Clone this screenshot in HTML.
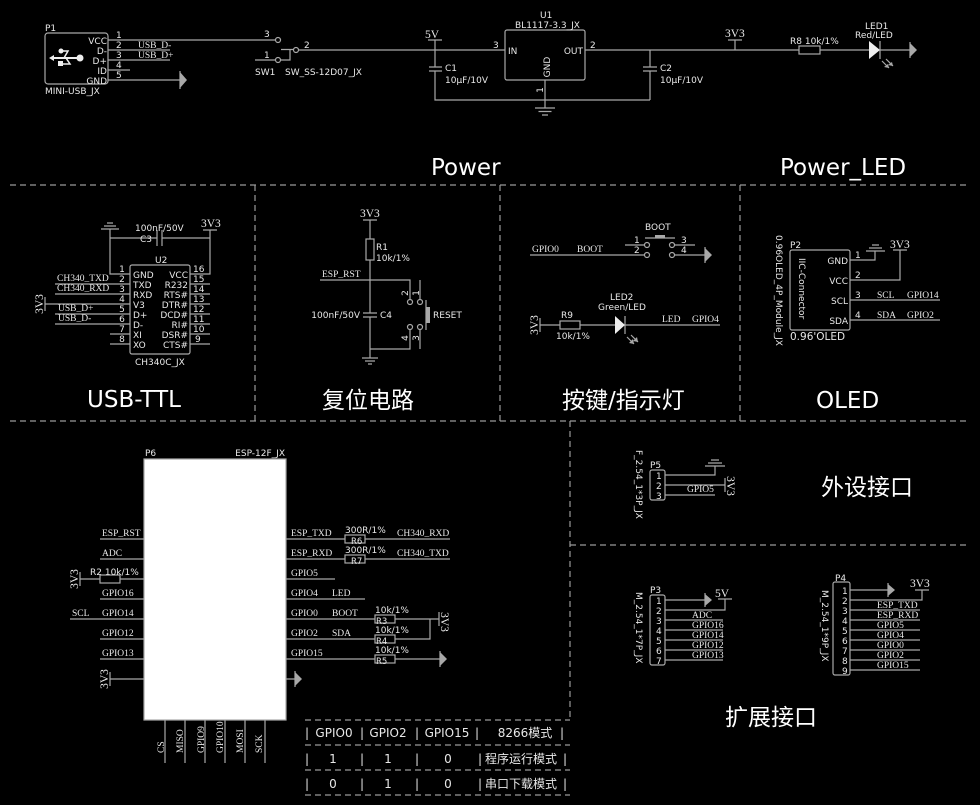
<!DOCTYPE html>
<html><head><meta charset="utf-8"><style>
html,body{margin:0;padding:0;background:#000;width:980px;height:805px;overflow:hidden}
svg{display:block}
.l{stroke:#a8a8a8;stroke-width:1.2;fill:none}
.d{stroke:#9a9a9a;stroke-width:1.2;fill:none;stroke-dasharray:6 4}
.g{fill:#a8a8a8;stroke:none}
.w{fill:#eeeeee;stroke:none}
text{fill:#e8e8e8;font-family:"DejaVu Sans","Noto Sans CJK SC",sans-serif;font-size:9px}
.s{font-family:"Liberation Serif",serif;font-size:9.5px}
.p{font-family:"Liberation Serif",serif;font-size:11.5px}
.t{font-size:23px;fill:#fff}
.tb text{font-size:12px}
.rs{font-size:8.5px}
</style></head><body>
<svg width="980" height="805" viewBox="0 0 980 805" xmlns="http://www.w3.org/2000/svg">
<rect width="980" height="805" fill="#000"/>

<!-- dashed section lines -->
<g class="d">
<path d="M10 185H970"/>
<path d="M255 185V421M500 185V421M740 185V421"/>
<path d="M10 421H970"/>
<path d="M570 421V720"/>
<path d="M570 545H970"/>
<path d="M305 720H570M305 745H570M305 770H570M305 795H570"/>
</g>

<!-- ================= TOP: POWER ================= -->
<g class="l">
<rect x="45" y="33" width="63" height="51" rx="3"/>
<path d="M108 40H275.5M108 50H170M108 60H170M108 70H130M108 80H180M180 71V89"/>
<circle cx="278" cy="40" r="2.5"/><circle cx="278" cy="60" r="2.5"/><circle cx="296" cy="50" r="2.5"/>
<path d="M255 60H275.5M281 49.5H293.5M290 49.5V60H280.5M298.5 50H505"/>
<path d="M428 40H442M435 40V67M429 67H442M429 71H442M435 71V100H650M650 50V67M643 67H657M643 71H657M650 71V100"/>
<rect x="505" y="30" width="80" height="50" rx="2"/>
<path d="M545 80V108M535 108H555M538.5 111.5H551.5M542 115H548"/>
<path d="M585 50H799M820 50H869M880 50H910M728 40H742M735 40V50"/>
<rect x="799" y="46" width="21" height="8"/>
<path d="M880 41V59M910 42V58"/>
<path d="M882 61L889 68M886 59L893 66"/>
</g>
<polygon class="g" points="180,72 187,80 180,88"/>
<polygon class="g" points="910,43 917,50 910,57"/>
<polygon class="w" points="869,41 880,50 869,59"/>
<polygon class="g" points="889,68 884,67 888,64"/>
<polygon class="g" points="893,66 888,65 892,62"/>
<!-- USB icon -->
<g>
<path d="M52 58H78" stroke="#eee" stroke-width="2"/>
<path d="M64 58L68 51H61M66 58L70 64H62" stroke="#eee" stroke-width="1.5" fill="none"/>
<circle cx="80" cy="58" r="3.5" class="w"/>
<circle cx="61" cy="51" r="2.5" class="w"/>
<rect x="58" y="61" width="5" height="5" class="w"/>
<polygon class="w" points="49,58 54,55 54,61"/>
</g>
<text x="45" y="31">P1</text>
<text x="107" y="44" text-anchor="end">VCC</text>
<text x="107" y="54" text-anchor="end">D-</text>
<text x="107" y="64" text-anchor="end">D+</text>
<text x="107" y="74" text-anchor="end">ID</text>
<text x="107" y="84" text-anchor="end">GND</text>
<text x="116" y="38">1</text><text x="116" y="48">2</text><text x="116" y="58">3</text><text x="116" y="68">4</text><text x="116" y="78">5</text>
<text class="s" x="138" y="48">USB_D-</text>
<text class="s" x="138" y="58">USB_D+</text>
<text x="45" y="94">MINI-USB_JX</text>
<text x="264" y="37">3</text><text x="264" y="58">1</text><text x="304" y="48">2</text>
<text x="255" y="75">SW1</text><text x="285" y="75">SW_SS-12D07_JX</text>
<text class="p" x="425" y="38">5V</text>
<text x="445" y="71">C1</text><text x="445" y="83">10µF/10V</text>
<text x="540" y="18">U1</text><text x="515" y="28">BL1117-3.3_JX</text>
<text x="508" y="54">IN</text><text x="583" y="54" text-anchor="end">OUT</text>
<text x="493" y="48">3</text><text x="590" y="48">2</text>
<text transform="translate(550,67) rotate(-90)" text-anchor="middle">GND</text>
<text transform="translate(543,90) rotate(-90)" text-anchor="middle">1</text>
<text x="660" y="71">C2</text><text x="660" y="83">10µF/10V</text>
<text class="p" x="725" y="37">3V3</text>
<text x="790" y="44">R8 10k/1%</text>
<text x="865" y="29">LED1</text><text x="855" y="38">Red/LED</text>
<text class="t" x="431" y="175">Power</text>
<text class="t" x="780" y="175">Power_LED</text>

<!-- ================= USB-TTL ================= -->
<g class="l">
<path d="M110 229V274H130M101 229H119M104 226H116M107 223H113"/>
<path d="M110 238H157M157 230V246M162 230V246M162 238H210M203 230H217M210 230V274H190"/>
<rect x="130" y="265" width="60" height="89" rx="2"/>
<path d="M55 284H130M55 294H130M45 304H130M45 297V311M55 314H130M55 324H130M110 334H130M110 344H130"/>
<path d="M190 284H210M190 294H210M190 304H210M190 314H210M190 324H210M190 334H210M190 344H210"/>
</g>
<text x="135" y="231">100nF/50V</text>
<text x="140" y="242">C3</text>
<text class="p" x="201" y="227">3V3</text>
<text x="155" y="263">U2</text>
<text x="133" y="278">GND</text><text x="133" y="288">TXD</text><text x="133" y="298">RXD</text><text x="133" y="308">V3</text>
<text x="133" y="318">D+</text><text x="133" y="328">D-</text><text x="133" y="338">XI</text><text x="133" y="348">XO</text>
<text x="188" y="278" text-anchor="end">VCC</text><text x="188" y="288" text-anchor="end">R232</text>
<text x="188" y="298" text-anchor="end">RTS#</text><text x="188" y="308" text-anchor="end">DTR#</text>
<text x="188" y="318" text-anchor="end">DCD#</text><text x="188" y="328" text-anchor="end">RI#</text>
<text x="188" y="338" text-anchor="end">DSR#</text><text x="188" y="348" text-anchor="end">CTS#</text>
<text x="122" y="272" text-anchor="middle">1</text><text x="122" y="282" text-anchor="middle">2</text>
<text x="122" y="292" text-anchor="middle">3</text><text x="122" y="302" text-anchor="middle">4</text>
<text x="122" y="312" text-anchor="middle">5</text><text x="122" y="322" text-anchor="middle">6</text>
<text x="122" y="332" text-anchor="middle">7</text><text x="122" y="342" text-anchor="middle">8</text>
<text x="193" y="272">16</text><text x="193" y="282">15</text><text x="193" y="292">14</text><text x="193" y="302">13</text>
<text x="193" y="312">12</text><text x="193" y="322">11</text><text x="193" y="332">10</text><text x="195" y="342">9</text>
<text class="s" x="57" y="281">CH340_TXD</text>
<text class="s" x="57" y="291">CH340_RXD</text>
<text class="s" x="58" y="311">USB_D+</text>
<text class="s" x="58" y="321">USB_D-</text>
<text class="p" transform="translate(43,304) rotate(-90)" text-anchor="middle">3V3</text>
<text x="135" y="365">CH340C_JX</text>
<text class="t" x="134" y="407" text-anchor="middle">USB-TTL</text>

<!-- ================= RESET ================= -->
<g class="l">
<path d="M363 220H377M370 220V239M370 260V313M363 313H377M363 317H377M370 317V358M362 358H378M365 361H375M368 364H372"/>
<rect x="366" y="239" width="8" height="21"/>
<path d="M320 280H410V299.5M420 280V299.5M410 329.5V349H370M420 329.5V349"/>
<circle cx="410" cy="302" r="2.5"/><circle cx="420" cy="302" r="2.5"/>
<circle cx="410" cy="327" r="2.5"/><circle cx="420" cy="327" r="2.5"/>
<path d="M426 300V330"/>
</g>
<rect x="426" y="307" width="4" height="16" class="g"/>
<text class="p" x="360" y="217">3V3</text>
<text x="376" y="250">R1</text><text x="376" y="261">10k/1%</text>
<text class="s" x="322" y="277">ESP_RST</text>
<text transform="translate(408,293) rotate(-90)" text-anchor="middle">2</text>
<text transform="translate(419,293) rotate(-90)" text-anchor="middle">1</text>
<text transform="translate(408,338) rotate(-90)" text-anchor="middle">4</text>
<text transform="translate(419,338) rotate(-90)" text-anchor="middle">3</text>
<text x="360" y="318" text-anchor="end">100nF/50V</text>
<text x="380" y="318">C4</text>
<text x="433" y="318">RESET</text>
<text class="t" x="322" y="408">复位电路</text>

<!-- ================= BUTTON / LED ================= -->
<g class="l">
<path d="M530 255H644.5M625 245H644.5M674.5 245H695M674.5 255H705M705 247V263M645 238H675"/>
<circle cx="647" cy="245" r="2.5"/><circle cx="647" cy="255" r="2.5"/>
<circle cx="672" cy="245" r="2.5"/><circle cx="672" cy="255" r="2.5"/>
<path d="M540 318V332M540 325H560M580 325H615M625 316V334M625 325H720"/>
<rect x="560" y="321" width="20" height="8"/>
<path d="M627 337L634 344M631 335L638 342"/>
</g>
<rect x="655" y="235" width="10" height="3" class="g"/>
<polygon class="g" points="705,248 712,255 705,262"/>
<polygon class="w" points="615,316 625,325 615,334"/>
<polygon class="g" points="634,344 629,343 633,339"/>
<polygon class="g" points="638,342 633,341 637,337"/>
<text class="s" x="532" y="252">GPIO0</text>
<text class="s" x="577" y="252">BOOT</text>
<text x="645" y="230">BOOT</text>
<text x="634" y="243">1</text><text x="634" y="253">2</text>
<text x="681" y="243">3</text><text x="681" y="253">4</text>
<text class="p" transform="translate(538,325) rotate(-90)" text-anchor="middle">3V3</text>
<text x="561" y="318">R9</text>
<text x="556" y="339">10k/1%</text>
<text x="610" y="300">LED2</text>
<text x="598" y="310">Green/LED</text>
<text class="s" x="662" y="322">LED</text>
<text class="s" x="692" y="322">GPIO4</text>
<text class="t" x="562" y="408">按键/指示灯</text>

<!-- ================= OLED ================= -->
<g class="l">
<rect x="790" y="250" width="60" height="80" rx="2"/>
<path d="M850 260H875V251M866 251H885M869 248H882M872 245H879"/>
<path d="M850 280H900V250M893 250H907"/>
<path d="M850 300H940M850 320H940"/>
</g>
<text x="790" y="248">P2</text>
<text x="848" y="264" text-anchor="end">GND</text>
<text x="848" y="284" text-anchor="end">VCC</text>
<text x="848" y="304" text-anchor="end">SCL</text>
<text x="848" y="324" text-anchor="end">SDA</text>
<text x="855" y="258">1</text><text x="855" y="278">2</text><text x="855" y="298">3</text><text x="855" y="318">4</text>
<text class="p" x="890" y="248">3V3</text>
<text class="s" x="877" y="298">SCL</text><text class="s" x="907" y="298">GPIO14</text>
<text class="s" x="877" y="318">SDA</text><text class="s" x="907" y="318">GPIO2</text>
<text x="790" y="340" style="font-size:10.5px">0.96'OLED</text>
<text transform="translate(799,258) rotate(90)">IIC-Connector</text>
<text transform="translate(776,235) rotate(90)">0.96OLED_4P_Module_JX</text>
<text class="t" x="816" y="408">OLED</text>

<!-- ================= ESP-12F ================= -->
<rect x="144" y="459" width="142" height="261" fill="#fff" stroke="#a8a8a8" stroke-width="1.2"/>
<g class="l">
<path d="M100 539H144M100 559H144M80 572V586M80 579H100M120 579H144M100 599H144M70 619H144M100 639H144M100 659H144M110 672V686M110 679H144"/>
<rect x="100" y="575" width="20" height="8"/>
<path d="M286 539H345M365 539H450M286 559H345M365 559H450M286 579H335M286 599H365"/>
<rect x="345" y="535" width="20" height="8"/>
<rect x="345" y="555" width="20" height="8"/>
<path d="M286 619H375M395 619H439M439 612V626M286 639H375M395 639H430V619M286 659H375M395 659H440M440 651V667M286 679H295M295 671V687"/>
<rect x="375" y="615" width="20" height="8"/>
<rect x="375" y="635" width="20" height="8"/>
<rect x="375" y="655" width="20" height="8"/>
<path d="M165 720V763M185 720V763M205 720V763M225 720V763M245 720V763M265 720V763"/>
</g>
<polygon class="g" points="440,652 447,659 440,666"/>
<polygon class="g" points="295,672 302,679 295,686"/>
<text x="145" y="456">P6</text>
<text x="285" y="456" text-anchor="end">ESP-12F_JX</text>
<text class="s" x="102" y="536">ESP_RST</text>
<text class="s" x="102" y="556">ADC</text>
<text x="90" y="575">R2 10k/1%</text>
<text class="s" x="102" y="596">GPIO16</text>
<text class="s" x="72" y="616">SCL</text>
<text class="s" x="102" y="616">GPIO14</text>
<text class="s" x="102" y="636">GPIO12</text>
<text class="s" x="102" y="656">GPIO13</text>
<text class="p" transform="translate(78,579) rotate(-90)" text-anchor="middle">3V3</text>
<text class="p" transform="translate(108,679) rotate(-90)" text-anchor="middle">3V3</text>
<text class="s" x="291" y="536">ESP_TXD</text>
<text x="345" y="533">300R/1%</text>
<text class="rs" x="351" y="544">R6</text>
<text class="s" x="397" y="536">CH340_RXD</text>
<text class="s" x="291" y="556">ESP_RXD</text>
<text x="345" y="553">300R/1%</text>
<text class="rs" x="351" y="564">R7</text>
<text class="s" x="397" y="556">CH340_TXD</text>
<text class="s" x="291" y="576">GPIO5</text>
<text class="s" x="291" y="596">GPIO4</text>
<text class="s" x="332" y="596">LED</text>
<text class="s" x="291" y="616">GPIO0</text>
<text class="s" x="332" y="616">BOOT</text>
<text x="375" y="613">10k/1%</text>
<text class="rs" x="376" y="624">R3</text>
<text class="s" x="291" y="636">GPIO2</text>
<text class="s" x="332" y="636">SDA</text>
<text x="375" y="633">10k/1%</text>
<text class="rs" x="376" y="644">R4</text>
<text class="s" x="291" y="656">GPIO15</text>
<text x="375" y="653">10k/1%</text>
<text class="rs" x="376" y="664">R5</text>
<text class="p" transform="translate(441,622) rotate(90)" text-anchor="middle">3V3</text>
<text class="s" transform="translate(164,753) rotate(-90)">CS</text>
<text class="s" transform="translate(183,753) rotate(-90)">MISO</text>
<text class="s" transform="translate(204,753) rotate(-90)">GPIO9</text>
<text class="s" transform="translate(223,753) rotate(-90)">GPIO10</text>
<text class="s" transform="translate(243,753) rotate(-90)">MOSI</text>
<text class="s" transform="translate(262,753) rotate(-90)">SCK</text>

<!-- table -->
<g class="tb">
<text x="307" y="737" text-anchor="middle">|</text><text x="362" y="737" text-anchor="middle">|</text>
<text x="417" y="737" text-anchor="middle">|</text><text x="477" y="737" text-anchor="middle">|</text>
<text x="562" y="737" text-anchor="middle">|</text>
<text x="334" y="737" text-anchor="middle">GPIO0</text>
<text x="388" y="737" text-anchor="middle">GPIO2</text>
<text x="447" y="737" text-anchor="middle">GPIO15</text>
<text x="525" y="737" text-anchor="middle">8266模式</text>
<text x="307" y="763" text-anchor="middle">|</text><text x="362" y="763" text-anchor="middle">|</text>
<text x="417" y="763" text-anchor="middle">|</text><text x="480" y="763" text-anchor="middle">|</text>
<text x="565" y="763" text-anchor="middle">|</text>
<text x="333" y="763" text-anchor="middle">1</text>
<text x="388" y="763" text-anchor="middle">1</text>
<text x="448" y="763" text-anchor="middle">0</text>
<text x="521" y="763" text-anchor="middle">程序运行模式</text>
<text x="307" y="788" text-anchor="middle">|</text><text x="362" y="788" text-anchor="middle">|</text>
<text x="417" y="788" text-anchor="middle">|</text><text x="480" y="788" text-anchor="middle">|</text>
<text x="565" y="788" text-anchor="middle">|</text>
<text x="333" y="788" text-anchor="middle">0</text>
<text x="388" y="788" text-anchor="middle">1</text>
<text x="448" y="788" text-anchor="middle">0</text>
<text x="521" y="788" text-anchor="middle">串口下载模式</text>
</g>

<!-- ================= P5 ================= -->
<g class="l">
<rect x="650" y="470" width="15" height="30" rx="2"/>
<path d="M665 475H715V466M705 466H725M708 463H722M711 460H719"/>
<path d="M665 485H725M725 478V492M665 495H715"/>
</g>
<text x="650" y="468">P5</text>
<text x="656" y="479">1</text><text x="656" y="489">2</text><text x="656" y="499">3</text>
<text class="s" x="687" y="492">GPIO5</text>
<text class="p" transform="translate(727,486) rotate(90)" text-anchor="middle">3V3</text>
<text transform="translate(636,450) rotate(90)">F_2.54_1*3P_JX</text>
<text class="t" x="821" y="495">外设接口</text>

<!-- ================= P3 ================= -->
<g class="l">
<rect x="650" y="595" width="15" height="70" rx="2"/>
<path d="M665 600H705M705 593V607M665 610H725V599M718 599H732"/>
<path d="M665 620H723M665 630H723M665 640H723M665 650H723M665 660H723"/>
</g>
<polygon class="g" points="705,594 712,600 705,606"/>
<text x="650" y="593">P3</text>
<text x="656" y="604">1</text><text x="656" y="614">2</text><text x="656" y="624">3</text><text x="656" y="634">4</text>
<text x="656" y="644">5</text><text x="656" y="654">6</text><text x="656" y="664">7</text>
<text class="p" x="715" y="597">5V</text>
<text class="s" x="692" y="618">ADC</text>
<text class="s" x="692" y="628">GPIO16</text>
<text class="s" x="692" y="638">GPIO14</text>
<text class="s" x="692" y="648">GPIO12</text>
<text class="s" x="692" y="658">GPIO13</text>
<text transform="translate(636,592) rotate(90)">M_2.54_1*7P_JX</text>

<!-- ================= P4 ================= -->
<g class="l">
<rect x="833" y="582" width="17" height="93" rx="2"/>
<path d="M850 590H888M888 583V597M850 600H922V590M915 590H929"/>
<path d="M850 610H920M850 620H920M850 630H920M850 640H920M850 650H920M850 660H920M850 670H920"/>
</g>
<polygon class="g" points="888,584 895,590 888,596"/>
<text x="835" y="581">P4</text>
<text x="842" y="594">1</text><text x="842" y="604">2</text><text x="842" y="614">3</text><text x="842" y="624">4</text>
<text x="842" y="634">5</text><text x="842" y="644">6</text><text x="842" y="654">7</text><text x="842" y="664">8</text><text x="842" y="674">9</text>
<text class="p" x="910" y="587">3V3</text>
<text class="s" x="877" y="608">ESP_TXD</text>
<text class="s" x="877" y="618">ESP_RXD</text>
<text class="s" x="877" y="628">GPIO5</text>
<text class="s" x="877" y="638">GPIO4</text>
<text class="s" x="877" y="648">GPIO0</text>
<text class="s" x="877" y="658">GPIO2</text>
<text class="s" x="877" y="668">GPIO15</text>
<text transform="translate(822,590) rotate(90)">M_2.54_1*9P_JX</text>
<text class="t" x="725" y="725">扩展接口</text>
</svg>
</body></html>
